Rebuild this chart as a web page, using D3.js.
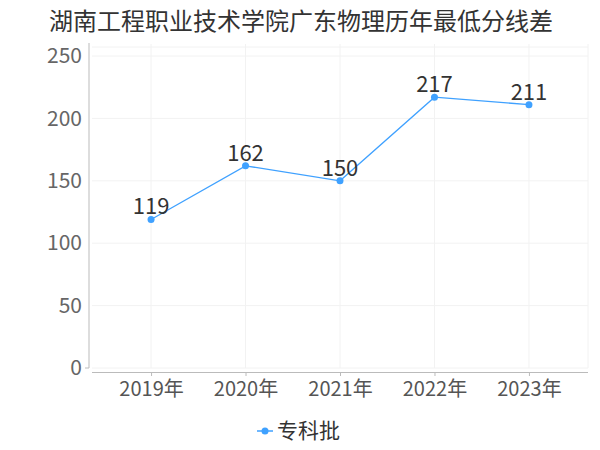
<!DOCTYPE html>
<html><head><meta charset="utf-8">
<script src="https://cdn.jsdelivr.net/npm/d3@7/dist/d3.min.js"></script>
<style>body{margin:0;background:#fff}svg{display:block}</style>
</head><body>
<svg id="c" width="600" height="450"></svg>
<script>
const categories = ["2019年","2020年","2021年","2022年","2023年"];
const values = [119,162,150,217,211];
const yTicks = [0,50,100,150,200,250];
const seriesName = "专科批";
const title = "湖南工程职业技术学院广东物理历年最低分线差";

const font = "'Noto Sans CJK SC','Noto Sans',sans-serif";
const color = "#3fa1ff";
const svg = d3.select("#c");
const pLeft = 92, pRight = 588, pTop = 44, pBottom = 368;

const x = d3.scalePoint().domain(categories).range([pLeft, pRight]).padding(0.625);
const y = d3.scaleLinear().domain([0,250]).range([pBottom, 56]);

// title
svg.append("text").attr("x", 301).attr("y", 30).attr("text-anchor","middle")
  .attr("font-family", font).attr("font-size", 24).attr("fill","#333").text(title);

// grid
const g = svg.append("g");
g.selectAll(".hg").data(yTicks).join("line")
  .attr("x1", pLeft).attr("x2", pRight).attr("y1", d=>y(d)).attr("y2", d=>y(d))
  .attr("stroke","#f2f2f2").attr("stroke-width",1);
g.selectAll(".vg").data(categories).join("line")
  .attr("x1", d=>x(d)).attr("x2", d=>x(d)).attr("y1", pTop).attr("y2", pBottom)
  .attr("stroke","#f2f2f2").attr("stroke-width",1);
g.append("line").attr("x1", pLeft).attr("x2", pRight).attr("y1", pTop+3).attr("y2", pTop+3).attr("stroke","#f2f2f2");
g.append("line").attr("x1", pRight).attr("x2", pRight).attr("y1", pTop).attr("y2", pBottom).attr("stroke","#f2f2f2");

// y axis
const ya = svg.append("g").attr("transform", "translate(89,0)")
  .call(d3.axisLeft(y).tickValues(yTicks).tickSize(0).tickPadding(7));
ya.select(".domain").remove();
ya.append("line").attr("x1",0).attr("x2",0).attr("y1",pTop-1).attr("y2",pBottom).attr("stroke","#bbb");
ya.append("line").attr("x1",-4).attr("x2",0).attr("y1",pBottom).attr("y2",pBottom).attr("stroke","#bbb");
ya.selectAll("text").attr("font-family", font).attr("font-size", 21).attr("fill","#666");

// x axis
const xa = svg.append("g").attr("transform", "translate(0,372)")
  .call(d3.axisBottom(x).tickSize(4).tickPadding(6).tickSizeOuter(0));
xa.select(".domain").attr("stroke","#bbb").attr("d", `M${pLeft},0.5H${pRight}`);
xa.selectAll(".tick line").attr("stroke","#bbb");
xa.selectAll("text").attr("font-family", font).attr("font-size", 20).attr("fill","#555");

// line
const line = d3.line().x((d,i)=>x(categories[i])).y(d=>y(d));
svg.append("path").datum(values).attr("d", line).attr("fill","none")
  .attr("stroke", color).attr("stroke-width", 1.3);
svg.selectAll(".pt").data(values).join("circle")
  .attr("cx",(d,i)=>x(categories[i])).attr("cy", d=>y(d)).attr("r",3.5).attr("fill", color);
svg.selectAll(".lbl").data(values).join("text")
  .attr("x",(d,i)=>x(categories[i])).attr("y", d=>y(d)-5).attr("text-anchor","middle")
  .attr("font-family", font).attr("font-size", 22).attr("fill","#333").text(d=>d);

// legend
const lg = svg.append("g").attr("transform","translate(0,431)");
lg.append("line").attr("x1",257).attr("x2",273).attr("y1",0).attr("y2",0).attr("stroke",color).attr("stroke-width",1.5);
lg.append("circle").attr("cx",265).attr("cy",0).attr("r",3.5).attr("fill",color);
lg.append("text").attr("x",277).attr("y",0).attr("dy","0.35em").attr("font-family",font)
  .attr("font-size",21).attr("fill","#333").text(seriesName);
</script>
</body></html>
